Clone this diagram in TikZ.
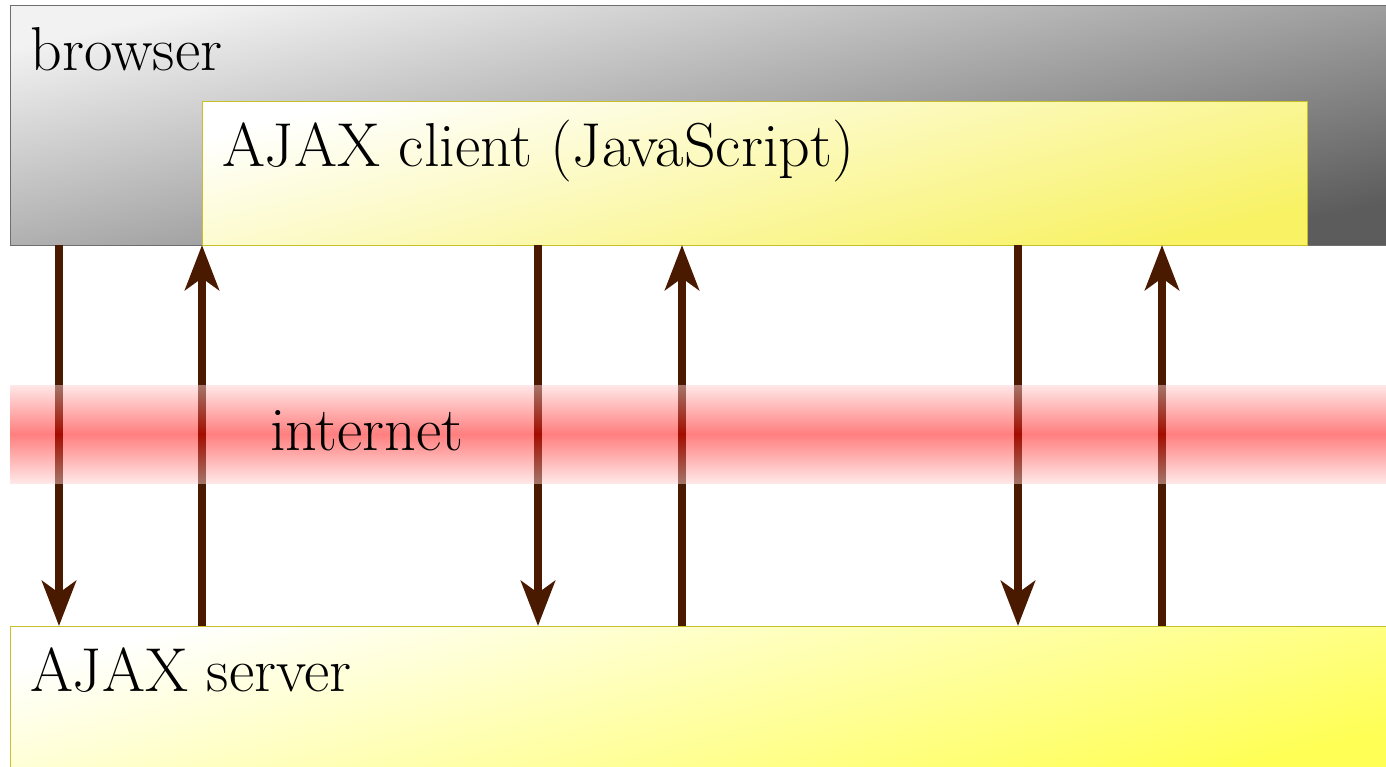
\documentclass[tikz,border=0pt]{standalone}
\usetikzlibrary{arrows.meta}
\definecolor{flowbrown}{RGB}{74,26,0}
\definecolor{browserlight}{RGB}{242,242,242}
\definecolor{browserdark}{RGB}{92,92,92}
\definecolor{clientyellow}{RGB}{248,242,100}
\definecolor{serveryellow}{RGB}{255,255,85}
\definecolor{yellowedge}{RGB}{200,192,40}
\definecolor{bandedge}{RGB}{255,209,209}
\begin{document}
\begin{tikzpicture}[x=.5pt,y=-.5pt,
  txt/.style={inner sep=0pt,outer sep=0pt,anchor=base west,text=black,font=\fontsize{31}{37}\selectfont},
  panel/.style={inner sep=0pt,outer sep=0pt,anchor=north west,line width=0.5pt},
  flow/.style={draw=flowbrown,line width=4pt,-{Stealth[length=22.5pt,width=17pt,inset=6pt]}}]
\path[use as bounding box] (0,0) rectangle (1386,766);
\path[fill=white,draw=none] (0,0) rectangle (1386,766);
% boxes
\node[panel,draw={rgb,255:red,110;green,110;blue,110},top color=browserlight,bottom color=browserdark,shading angle=12,minimum width=692pt,minimum height=120pt] (browser) at (10,5) {};
\node[panel,draw=yellowedge,top color=white,bottom color=clientyellow,shading angle=14,minimum width=552.5pt,minimum height=72pt] (client) at (202,101) {};
\node[panel,draw=yellowedge,top color=white,bottom color=serveryellow,shading angle=14,minimum width=692pt,minimum height=74pt] (server) at (10,626) {};
% requests and responses
\draw[flow] (59,0 |- browser.south) -- (59,0 |- server.north);
\draw[flow] (202,0 |- server.north) -- (202,0 |- client.south);
\draw[flow] (538,0 |- client.south) -- (538,0 |- server.north);
\draw[flow] (682,0 |- server.north) -- (682,0 |- client.south);
\draw[flow] (1018,0 |- client.south) -- (1018,0 |- server.north);
\draw[flow] (1162,0 |- server.north) -- (1162,0 |- client.south);
% internet band
\node[panel,top color=bandedge,bottom color=bandedge,middle color=red,opacity=.5,minimum width=688pt,minimum height=49pt] (internet) at (10,385) {};
% texts
\node[txt] (browsertext) at (31,70) {browser};
\node[txt] (clienttext) at (222,166) {AJAX client (JavaScript)};
\node[txt] (internettext) at (270,450) {internet};
\node[txt] (servertext) at (30,691) {AJAX server};
\end{tikzpicture}
\end{document}
